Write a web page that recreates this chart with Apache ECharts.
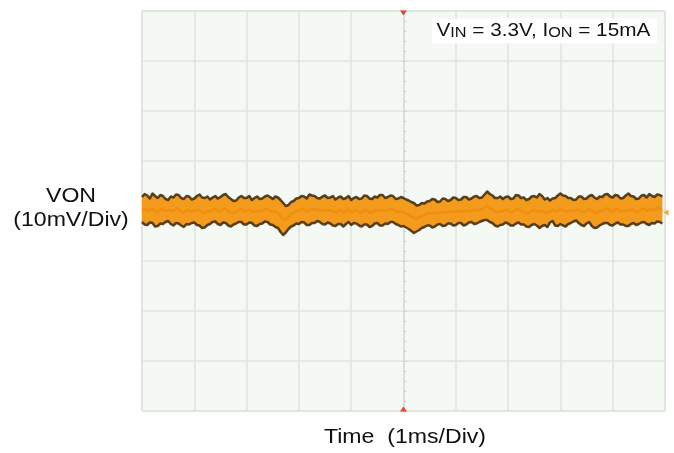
<!DOCTYPE html>
<html>
<head>
<meta charset="utf-8">
<script src="https://cdn.jsdelivr.net/npm/echarts@6/dist/echarts.min.js"></script>
<style>
  html, body { margin: 0; padding: 0; background: #fff; }
  #chart { width: 674px; height: 453px; }
</style>
</head>
<body>
<div id="chart"></div>
<script>
// scope trace, sampled every 0.05 ms, time relative to screen centre
const startMs = -5;
const stepMs = 0.05;
const timeRange = [-5, 5];      // 10 div x 1 ms
const voltRange = [-40, 40];    // 8 div x 10 mV

// upper edge of the noise band (mV)
const upperMv = [
  2.8, 3.4, 3.1, 2.5, 3.5, 3.0, 2.6, 3.2, 3.0, 2.4,
  2.2, 2.9, 2.7, 3.3, 3.2, 2.6, 2.4, 3.0, 2.9, 2.3,
  2.5, 3.0, 3.3, 2.7, 2.6, 2.9, 2.3, 2.7, 3.0, 2.5,
  2.8, 3.2, 3.4, 2.8, 2.4, 2.0, 2.1, 2.7, 3.0, 2.6,
  2.6, 3.0, 2.2, 2.6, 2.9, 2.4, 2.5, 2.9, 3.1, 2.8,
  2.4, 2.9, 2.7, 2.2, 1.6, 1.0, 1.2, 1.8, 2.0, 2.5,
  2.6, 3.0, 2.9, 2.5, 3.3, 3.1, 3.0, 2.6, 2.5, 2.9,
  3.1, 2.6, 2.7, 3.0, 2.3, 2.7, 2.9, 2.4, 2.6, 3.0,
  2.2, 2.6, 2.8, 2.4, 2.5, 3.1, 3.0, 2.5, 2.4, 2.9,
  2.7, 3.2, 3.2, 2.6, 2.8, 3.1, 3.0, 2.4, 2.5, 2.8,
  2.6, 2.3, 2.1, 1.8, 1.6, 1.1, 1.2, 1.6, 1.5, 1.9,
  2.0, 2.4, 2.3, 1.8, 1.9, 2.5, 2.4, 2.0, 2.2, 2.7,
  2.6, 2.2, 2.3, 2.8, 2.8, 2.3, 2.5, 2.9, 3.0, 2.6,
  2.7, 3.3, 3.9, 3.4, 3.1, 2.6, 2.6, 2.9, 2.4, 2.8,
  2.9, 2.4, 2.5, 3.2, 3.1, 2.6, 2.7, 2.2, 2.4, 2.9,
  3.0, 2.7, 3.4, 3.0, 2.3, 2.6, 2.1, 2.5, 2.6, 3.1,
  3.5, 3.1, 3.0, 2.6, 2.6, 2.2, 2.3, 2.9, 2.9, 2.4,
  2.5, 3.0, 3.2, 2.7, 2.4, 2.9, 2.8, 3.3, 3.4, 2.9,
  2.7, 3.2, 3.1, 2.5, 2.6, 3.1, 3.5, 3.0, 2.9, 2.4,
  2.5, 3.1, 3.2, 2.7, 3.4, 3.0, 2.8, 3.3, 3.2, 2.9
];
// lower edge of the noise band (mV)
const lowerMv = [
  -2.2, -2.7, -2.8, -2.3, -2.4, -3.1, -3.0, -2.5, -2.6, -2.2,
  -2.0, -2.6, -2.9, -2.4, -2.5, -2.9, -3.2, -2.6, -2.7, -2.4,
  -2.3, -2.8, -2.9, -3.4, -3.3, -2.8, -2.6, -2.2, -2.1, -2.6,
  -2.8, -2.3, -2.4, -2.9, -3.1, -2.7, -2.5, -2.2, -2.2, -2.7,
  -2.7, -2.3, -2.4, -2.9, -3.0, -2.6, -2.5, -2.1, -2.2, -2.7,
  -2.8, -3.2, -3.4, -4.2, -4.8, -4.3, -3.6, -3.1, -2.9, -2.5,
  -2.6, -2.2, -2.3, -2.8, -2.8, -2.4, -2.4, -2.0, -2.2, -2.6,
  -2.7, -2.3, -2.5, -2.9, -3.0, -2.6, -2.6, -3.1, -2.6, -2.2,
  -2.8, -2.4, -2.5, -2.9, -3.1, -2.7, -2.7, -3.2, -3.0, -2.5,
  -2.4, -2.9, -2.9, -2.5, -2.6, -2.2, -2.2, -2.6, -2.8, -3.1,
  -3.0, -3.3, -3.6, -4.0, -4.4, -4.1, -3.8, -3.4, -3.2, -2.9,
  -2.9, -3.3, -3.1, -2.7, -2.6, -3.0, -2.9, -2.5, -2.5, -2.9,
  -2.8, -2.4, -2.4, -2.9, -2.7, -2.3, -2.2, -2.6, -2.5, -2.2,
  -2.0, -1.8, -1.8, -2.2, -2.4, -2.9, -3.1, -2.8, -2.7, -2.3,
  -2.5, -2.9, -2.9, -2.5, -2.3, -2.7, -2.7, -3.1, -3.2, -2.8,
  -2.6, -2.9, -3.4, -3.0, -2.8, -3.2, -2.3, -2.0, -2.9, -3.0,
  -2.6, -2.9, -3.1, -2.6, -2.4, -2.1, -1.9, -2.4, -2.8, -3.0,
  -2.5, -2.2, -3.0, -3.4, -3.3, -2.9, -2.6, -2.4, -2.4, -2.8,
  -2.9, -2.5, -2.3, -2.7, -2.7, -3.0, -3.0, -2.6, -2.4, -2.8,
  -2.6, -2.3, -2.2, -2.6, -2.8, -2.4, -2.5, -2.1, -2.2, -2.5
];

const t = upperMv.map((_, i) => +(startMs + i * stepMs).toFixed(2));
const upperData = t.map((x, i) => [x, upperMv[i]]);
const lowerData = t.map((x, i) => [x, lowerMv[i]]);
const midData = t.map((x, i) => [x, (upperMv[i] + lowerMv[i]) / 2]);

const gridColor = '#dde4dc';
const edgeColor = '#45300f';
const fillColor = '#f39b1c';
const font = '"Liberation Sans", Arial, sans-serif';

const chart = echarts.init(document.getElementById('chart'), null, { renderer: 'canvas' });

// filled envelope between upper and lower edge
function renderBand(params, api) {
  const pts = [];
  upperData.forEach(d => pts.push(api.coord(d)));
  for (let i = lowerData.length - 1; i >= 0; i--) pts.push(api.coord(lowerData[i]));
  return { type: 'polygon', shape: { points: pts }, style: { fill: fillColor } };
}

const edgeLine = (name, data) => ({
  name, type: 'line', data, symbol: 'none', z: 4,
  lineStyle: { color: edgeColor, width: 2.5, join: 'round', opacity: 0.9 }
});

chart.setOption({
  animation: false,
  grid: {
    left: 142, top: 11, width: 523, height: 400,
    show: true, backgroundColor: '#f4f9f3', borderColor: '#d3dad3', borderWidth: 1
  },
  xAxis: {
    type: 'value', min: timeRange[0], max: timeRange[1], interval: 1,
    axisLabel: { show: false },
    axisLine: { show: true, onZero: true, lineStyle: { color: '#d6ddd5', width: 1.5 } },
    axisTick: { show: true, inside: true, length: 3, lineStyle: { color: '#cbd3ca' } },
    minorTick: { show: true, splitNumber: 5, length: 3, lineStyle: { color: '#cbd3ca' } },
    splitLine: { show: true, lineStyle: { color: gridColor, width: 1.5 } }
  },
  yAxis: {
    type: 'value', min: voltRange[0], max: voltRange[1], interval: 10,
    axisLabel: { show: false },
    axisLine: { show: true, onZero: true, lineStyle: { color: '#d6ddd5', width: 1.5 } },
    axisTick: { show: true, inside: true, length: 3, lineStyle: { color: '#cbd3ca' } },
    minorTick: { show: true, splitNumber: 5, length: 3, lineStyle: { color: '#cbd3ca' } },
    splitLine: { show: true, lineStyle: { color: gridColor, width: 1.5 } }
  },
  series: [
    {
      name: 'band', type: 'custom', data: [[timeRange[0], 0]], z: 3,
      renderItem: renderBand, silent: true
    },
    edgeLine('upper', upperData),
    edgeLine('lower', lowerData),
    {
      name: 'mid', type: 'line', data: midData, symbol: 'none', z: 5,
      lineStyle: { color: '#f08600', width: 2.5, opacity: 0.6 },
      markPoint: {
        silent: true,
        label: { show: false },
        data: [
          { coord: [0, voltRange[1]], symbol: 'triangle', symbolRotate: 180, symbolSize: [7, 5], symbolOffset: [0, 2], itemStyle: { color: '#e4432c' } },
          { coord: [0, voltRange[0]], symbol: 'triangle', symbolSize: [7, 5], symbolOffset: [0, -2], itemStyle: { color: '#e4432c' } },
          { coord: [timeRange[1], -0.3], symbol: 'triangle', symbolRotate: 90, symbolSize: [6, 5], symbolOffset: [1, 0], itemStyle: { color: '#f5a030' } }
        ]
      }
    }
  ],
  graphic: [
    {
      type: 'text', x: 432, y: 31, scaleX: 1.12,
      style: {
        text: 'V{s|IN} = 3.3V, I{s|ON} = 15mA',
        fontFamily: font, fontSize: 18.5, fill: '#111',
        verticalAlign: 'middle',
        backgroundColor: '#fff', padding: [3, 6, 3, 4],
        rich: { s: { fontFamily: font, fontSize: 14.5, fill: '#111', verticalAlign: 'bottom' } }
      },
      z: 100
    },
    {
      type: 'text', x: 71, y: 196, scaleX: 1.1,
      style: { text: 'VON', fontFamily: font, fontSize: 21, fill: '#111', align: 'center', verticalAlign: 'middle' }
    },
    {
      type: 'text', x: 71, y: 220, scaleX: 1.1,
      style: { text: '(10mV/Div)', fontFamily: font, fontSize: 21, fill: '#111', align: 'center', verticalAlign: 'middle' }
    },
    {
      type: 'text', x: 405, y: 437, scaleX: 1.1,
      style: { text: 'Time  (1ms/Div)', fontFamily: font, fontSize: 21, fill: '#111', align: 'center', verticalAlign: 'middle' }
    }
  ]
});
</script>
</body>
</html>
